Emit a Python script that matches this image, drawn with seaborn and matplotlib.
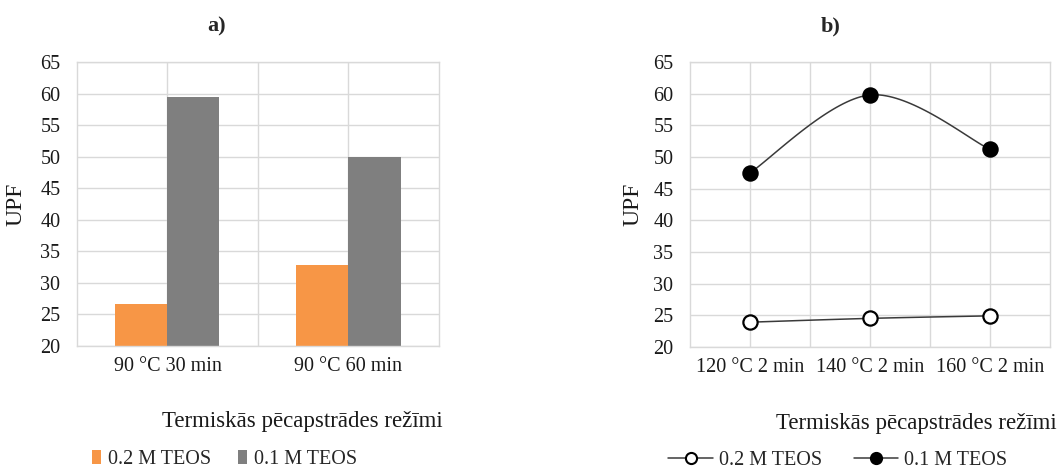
import numpy as np
import pandas as pd
import matplotlib
matplotlib.use("Agg")
import matplotlib.pyplot as plt
from matplotlib.lines import Line2D
from matplotlib.patches import Patch
import seaborn as sns

# --- data ---------------------------------------------------------------
bar_categories = ["90 °C 30 min", "90 °C 60 min"]
bar_teos_02 = [26.7, 32.8]
bar_teos_01 = [59.4, 50.0]

line_categories = ["120 °C 2 min", "140 °C 2 min", "160 °C 2 min"]
line_teos_02 = [23.9, 24.5, 24.9]
line_teos_01 = [47.5, 59.8, 51.2]

series_names = ["0.2 M TEOS", "0.1 M TEOS"]
panel_titles = ["a)", "b)"]
y_label = "UPF"
x_label = "Termiskās pēcapstrādes režīmi"
y_ticks = [20, 25, 30, 35, 40, 45, 50, 55, 60, 65]

# --- style --------------------------------------------------------------
sns.set_theme(style="whitegrid")
plt.rcParams["font.family"] = ["Liberation Serif", "DejaVu Serif"]
plt.rcParams["font.size"] = 14.5

GRID = "#d9d9d9"
ORANGE = "#f79646"
GREY = "#7f7f7f"
LINE = "#3a3a3a"
TEXT = "#1a1a1a"


def smooth_curve(xs, ys, n=40):
    """Cubic Bezier smoothing through the points (spreadsheet-style)."""
    p = np.column_stack([xs, ys]).astype(float)
    ext = np.vstack([p[0], p, p[-1]])
    out = []
    t = np.linspace(0, 1, n)[:, None]
    for i in range(len(p) - 1):
        p0, p1, p2, p3 = ext[i], ext[i + 1], ext[i + 2], ext[i + 3]
        c1 = p1 + (p2 - p0) / 6.0
        c2 = p2 - (p3 - p1) / 6.0
        seg = ((1 - t) ** 3) * p1 + 3 * ((1 - t) ** 2) * t * c1 \
            + 3 * (1 - t) * t ** 2 * c2 + t ** 3 * p2
        out.append(seg if i == 0 else seg[1:])
    out = np.vstack(out)
    return out[:, 0], out[:, 1]


def style_axes(ax, n_cat):
    ax.set_ylim(20, 65)
    ax.set_yticks(y_ticks)
    ax.set_xlim(-0.5, n_cat - 0.5)
    ax.set_xticks(range(n_cat))
    ax.set_xticks(np.arange(0.5, n_cat - 0.5, 1.0), minor=True)
    ax.grid(True, which="both", color=GRID, linewidth=1.0)
    ax.set_axisbelow(True)
    for s in ax.spines.values():
        s.set_visible(True)
        s.set_color(GRID)
        s.set_linewidth(1.0)
    ax.tick_params(axis="both", which="both", length=0, labelsize=14.5,
                   colors=TEXT)
    ax.tick_params(axis="y", pad=12)
    ax.tick_params(axis="x", pad=8)


fig = plt.figure(figsize=(10.57, 4.70), dpi=100)
ax_a = fig.add_axes([0.0728, 0.264, 0.3425, 0.604])
ax_b = fig.add_axes([0.6528, 0.262, 0.3406, 0.606])

# --- panel a: grouped bars ---------------------------------------------
df_bar = pd.DataFrame({
    "category": bar_categories * 2,
    "series": [series_names[0]] * len(bar_categories) + [series_names[1]] * len(bar_categories),
    "value": bar_teos_02 + bar_teos_01,
})
sns.barplot(data=df_bar, x="category", y="value", hue="series",
            palette=[ORANGE, GREY], width=0.575, gap=0, saturation=1,
            linewidth=0, legend=False, ax=ax_a, order=bar_categories,
            hue_order=series_names)
style_axes(ax_a, len(bar_categories))
ax_a.set_xticks(range(len(bar_categories)))
ax_a.set_xticklabels(bar_categories)

# --- panel b: smoothed lines with markers -----------------------------
xs = np.arange(len(line_categories))
for vals in [line_teos_02, line_teos_01]:
    cx, cy = smooth_curve(xs, vals)
    ax_b.plot(cx, cy, color=LINE, linewidth=1.1, zorder=3)
df_line = pd.DataFrame({
    "x": np.concatenate([xs, xs]),
    "value": line_teos_02 + line_teos_01,
    "series": [series_names[0]] * len(xs) + [series_names[1]] * len(xs),
})
for name, face in zip(series_names, ["white", "black"]):
    sub = df_line[df_line["series"] == name]
    sns.scatterplot(data=sub, x="x", y="value", s=105, color=face,
                    edgecolor="black", linewidth=1.6, zorder=4, ax=ax_b,
                    legend=False)
style_axes(ax_b, len(line_categories))
ax_b.set_xticks(xs)
ax_b.set_xticklabels(line_categories)

# --- titles, axis titles, legends ---------------------------------------
ax_a.set_title(panel_titles[0], fontsize=16, fontweight="bold", pad=22, x=0.385)
ax_b.set_title(panel_titles[1], fontsize=16, fontweight="bold", pad=22, x=0.39)

for ax, lx, ly in [(ax_a, 0.6215, -0.14), (ax_b, 0.628, -0.13)]:
    ax.set_xlabel(x_label, fontsize=16.5, va="center", color=TEXT)
    ax.xaxis.set_label_coords(lx, -0.268)
    ax.set_ylabel(y_label, fontsize=17, color=TEXT)
    ax.yaxis.set_label_coords(ly, 0.5)

bar_handles = [Patch(facecolor=ORANGE, edgecolor="none"),
               Patch(facecolor=GREY, edgecolor="none")]
ax_a.legend(bar_handles, series_names, loc="center left",
            bbox_to_anchor=(0.042, -0.40), ncol=2, frameon=False,
            fontsize=14.5, handlelength=0.45, handleheight=0.7,
            handletextpad=0.35, columnspacing=1.3, borderpad=0,
            borderaxespad=0)

line_handles = [Line2D([0], [0], color=LINE, linewidth=1.1, marker="o",
                       markersize=8, markerfacecolor=f,
                       markeredgecolor="black", markeredgewidth=1.5)
                for f in ["white", "black"]]
ax_b.legend(line_handles, series_names, loc="center left",
            bbox_to_anchor=(-0.06, -0.40), ncol=2, frameon=False,
            fontsize=14.5, handlelength=2.2, handletextpad=0.3,
            columnspacing=1.6, borderpad=0, borderaxespad=0)

fig.savefig("out.png", dpi=100, facecolor="white")
